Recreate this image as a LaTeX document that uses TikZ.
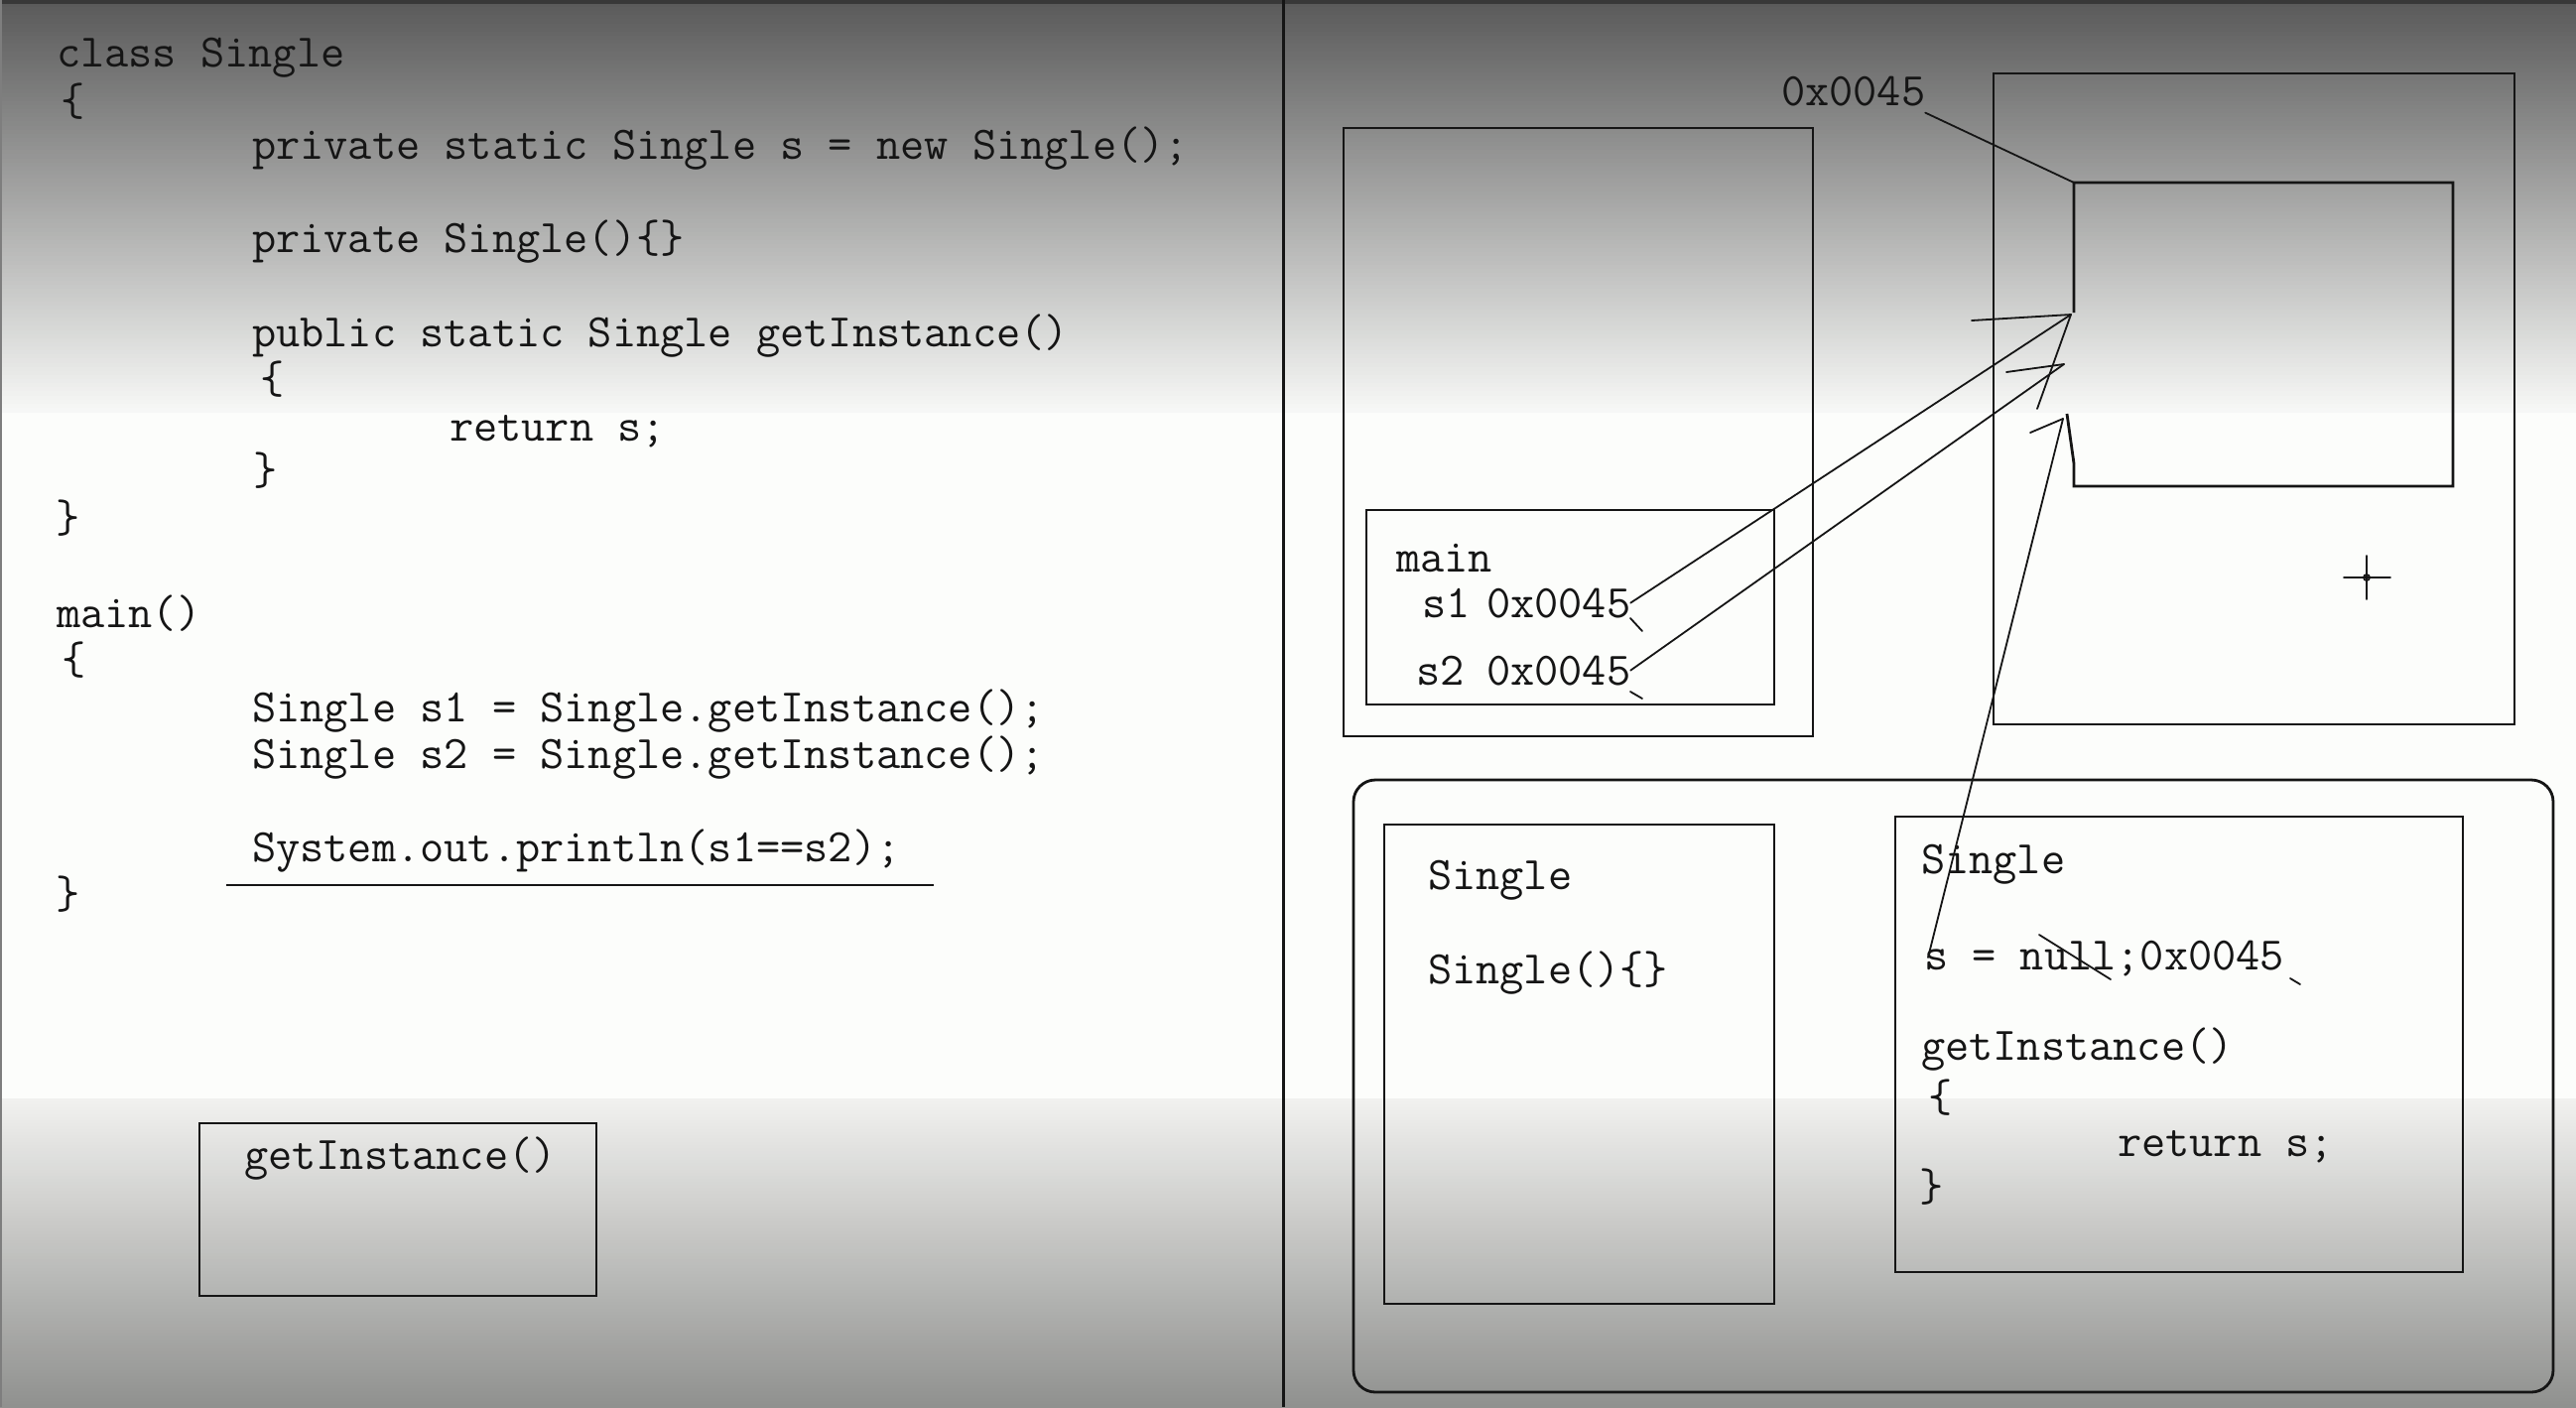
\documentclass[tikz,border=0pt]{standalone}
\usetikzlibrary{fit,calc}
\definecolor{ink}{HTML}{151515}
\definecolor{bgtop}{HTML}{5B5B5B}
\definecolor{bgfade}{HTML}{F8F9F7}
\definecolor{bgmid}{HTML}{FCFDFB}
\definecolor{bglow}{HTML}{F1F1EF}
\definecolor{bgbot}{HTML}{8F908E}
\newcommand\codefont{\fontsize{11.75}{14}\selectfont\ttfamily}
\begin{document}
\begin{tikzpicture}[x=0.25pt,y=-0.25pt,
  code/.style={anchor=base west, inner sep=0pt, outer sep=0pt, text=ink, font=\codefont},
  frame/.style={draw=ink, line width=0.7pt, inner sep=0pt, outer sep=0pt},
  pointer/.style={draw=ink, line width=0.45pt, line cap=round},
  stroke/.style={draw=ink, line width=0.45pt, line cap=round}]
\useasboundingbox (0,0) rectangle (2596,1418);

% background: dark fade at the top, white middle, grey fade at the bottom
\fill[bgmid] (0,0) rectangle (2596,1418);
\foreach \k in {0,...,99}{
  \fill[bgfade!\k!bgtop] (0,{3+\k*4.12}) rectangle (2596,{3+(\k+1)*4.12+1});
}
\foreach \k in {0,...,99}{
  \fill[bgbot!\k!bglow] (0,{1107+\k*3.11}) rectangle (2596,{1107+(\k+1)*3.11+1});
}
\fill[ink!85] (0,0) rectangle (2596,4);
\fill[ink!55] (0,0) rectangle (2,1418);

% divider between source and memory sketch
\draw[ink, line width=0.75pt] (1293,0) -- (1293,1418);

% ---------- source code ----------
\node[code] (l1)  at (57,67)   {class Single};
\node[code] (l2)  at (62,116)  {\{};
\node[code] (l3)  at (254,160) {private static Single s = new Single();};
\node[code] (l4)  at (254,254) {private Single()\{\}};
\node[code] (l5)  at (254,349) {public static Single getInstance()};
\node[code] (l6)  at (262,396) {\{};
\node[code] (l7)  at (453,444) {return s;};
\node[code] (l8)  at (255,488) {\}};
\node[code] (l9)  at (56,536)  {\}};
\node[code] (l10) at (57,632)  {main()};
\node[code] (l11) at (63,679)  {\{};
\node[code] (l12) at (254,727) {Single s1 = Single.getInstance();};
\node[code] (l13) at (254,774) {Single s2 = Single.getInstance();};
\node[code] (l14) at (254,868) {System.out.println(s1==s2);};
\node[code] (l15) at (56,915)  {\}};
\draw[frame] (228,892) -- (941,892);

\node[frame, fit={(201,1132) (601,1306)}] (gibox) {};
\node[code] (gitext) at (246,1178) {getInstance()};

% ---------- stack ----------
\node[frame, fit={(1354,129) (1827,742)}] (stack) {};
\node[frame, fit={(1377,514) (1788,710)}] (mainframe) {};
\node[code] (mainlbl) at (1407,576) {main};
\node[code] (s1name) at (1433,622) {s1};
\node[code] (s1val)  at (1498,622) {0x0045};
\node[code] (s2name) at (1427,690) {s2};
\node[code] (s2val)  at (1498,690) {0x0045};
\draw[stroke] (1643,623) -- (1655,636);
\draw[stroke] (1643,697) -- (1655,704);

% ---------- heap ----------
\node[frame, fit={(2009,74) (2534,730)}] (heap) {};
\coordinate (objNW) at (2090,184);
\coordinate (objSW) at (2090,490);
\draw[frame] (2090,315) -- (objNW) -- (2472,184) -- (2472,490) -- (objSW) -- (2090,467) -- (2083,417);
\node[code] (addr) at (1795,106) {0x0045};
\draw[stroke] ($(addr.south east)+(0,7)$) -- (objNW);

% cursor mark
\coordinate (cur) at (2385,582);
\draw[stroke] ($(cur)+(0,-22)$) -- ($(cur)+(0,22)$);
\draw[stroke] ($(cur)+(-23,0)$) -- ($(cur)+(24,0)$);
\draw[stroke] (cur) circle[radius=3];

% ---------- method area ----------
\node[frame, rounded corners=5.5pt, fit={(1364,786) (2573,1403)}] (classarea) {};
\node[frame, fit={(1395,831) (1788,1314)}] (sbox1) {};
\node[code] (sb1a) at (1439,896) {Single};
\node[code] (sb1b) at (1439,991) {Single()\{\}};

\node[frame, fit={(1910,823) (2482,1282)}] (sbox2) {};
\node[code] (sb2a) at (1936,880)  {Single};
\node[code] (sb2b) at (1939,977)  {s = null;0x0045};
\node[code] (sb2c) at (1936,1068) {getInstance()};
\node[code] (sb2d) at (1943,1120) {\{};
\node[code] (sb2e) at (2134,1165) {return s;};
\node[code] (sb2f) at (1934,1210) {\}};
\draw[stroke] (2055,942) -- (2127,987);
\draw[stroke] (2308,986) -- (2318,992);

% ---------- references into the object ----------
\coordinate (tipA) at (2087,317);
\coordinate (tipB) at (2080,367);
\coordinate (tipC) at (2079,422);
\draw[pointer] (s1val.east) -- (tipA);
\draw[pointer] (tipA) -- ++(-100,6);
\draw[pointer] (tipA) -- ++(-34,95);
\draw[pointer] (s2val.east) -- (tipB);
\draw[pointer] (tipB) -- ++(-58,8);
\draw[pointer] ($(sb2b.base west)+(4,-12)$) -- (tipC);
\draw[pointer] (tipC) -- ++(-33,14);
\end{tikzpicture}
\end{document}
